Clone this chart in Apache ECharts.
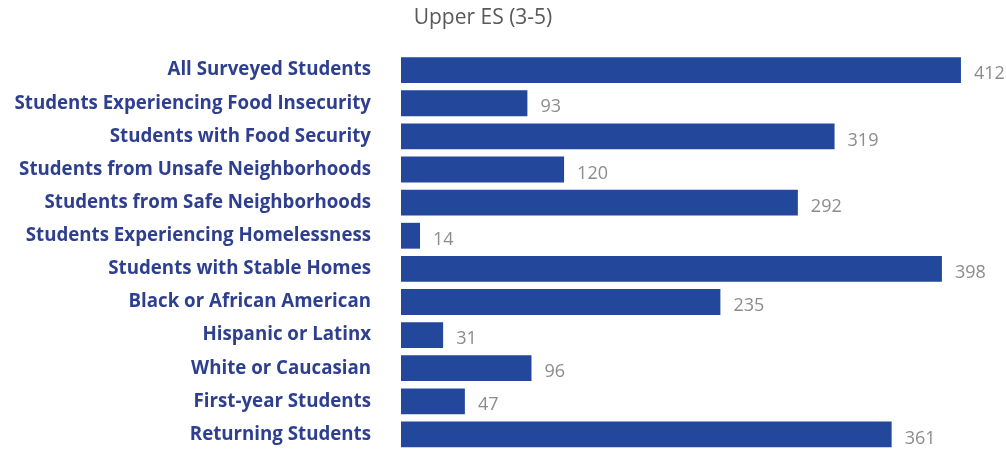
<!DOCTYPE html>
<html>
<head>
<meta charset="utf-8">
<script src="https://cdn.jsdelivr.net/npm/echarts@6/dist/echarts.min.js"></script>
<style>
  html, body { margin: 0; padding: 0; background: #ffffff; }
  #chart { width: 1006px; height: 451px; }
</style>
</head>
<body>
<div id="chart"></div>
<script>
// Student groups, listed top to bottom
const categories = [
  'All Surveyed Students',
  'Students Experiencing Food Insecurity',
  'Students with Food Security',
  'Students from Unsafe Neighborhoods',
  'Students from Safe Neighborhoods',
  'Students Experiencing Homelessness',
  'Students with Stable Homes',
  'Black or African American',
  'Hispanic or Latinx',
  'White or Caucasian',
  'First-year Students',
  'Returning Students'
];
// Number of respondents per group
const counts = [412, 93, 319, 120, 292, 14, 398, 235, 31, 96, 47, 361];
const titleText = 'Upper ES (3-5)';

const chart = echarts.init(document.getElementById('chart'));
chart.setOption({
  animation: false,
  title: {
    text: titleText,
    left: 478,
    textAlign: 'center',
    top: 3,
    textStyle: { fontFamily: 'Open Sans', fontSize: 21, fontWeight: 'normal', color: '#595959' }
  },
  grid: { left: 401, top: 53.6, width: 598, height: 400, containLabel: false },
  xAxis: {
    type: 'value', min: 0, max: 440,
    show: false
  },
  yAxis: {
    type: 'category',
    data: categories,
    inverse: true,
    axisLine: { show: false },
    axisTick: { show: false },
    axisLabel: {
      margin: 30,
      padding: [4, 0, 0, 0],
      fontFamily: 'Open Sans', fontSize: 18.7, fontWeight: 700, color: '#2e3f8f'
    }
  },
  series: [{
    type: 'bar',
    data: counts,
    barCategoryGap: '22%',
    itemStyle: { color: '#23479a' },
    label: {
      show: true, position: 'right', distance: 13, offset: [0, 4],
      fontFamily: 'Open Sans', fontSize: 18, color: '#8c8c8c'
    }
  }]
});
</script>
</body>
</html>
